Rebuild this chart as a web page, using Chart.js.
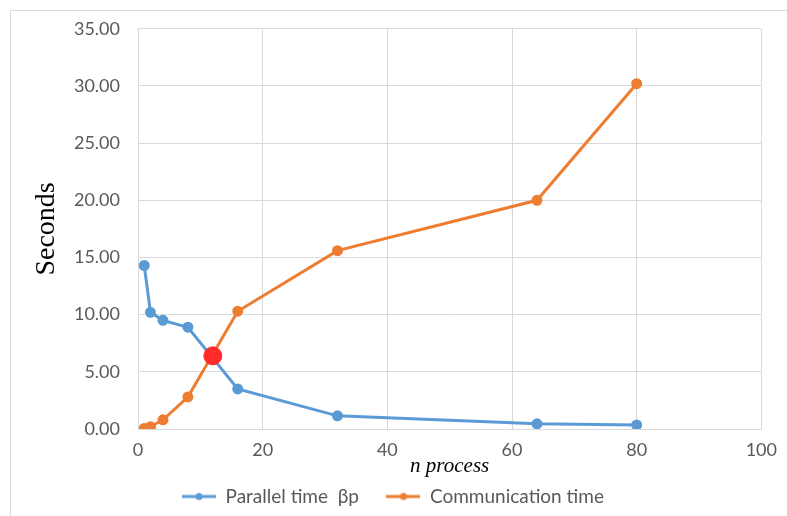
<!DOCTYPE html>
<html>
<head>
<meta charset="utf-8">
<script src="https://cdn.jsdelivr.net/npm/chart.js@4.4.1/dist/chart.umd.min.js"></script>
<style>
  html, body { margin: 0; padding: 0; background: #fff; }
  #wrap { position: relative; width: 787px; height: 516px; }
  #frame { position: absolute; left: 10px; top: 10px; right: 0; bottom: 0;
           border-top: 1px solid #d9d9d9; border-left: 1px solid #d9d9d9; }
  canvas { position: absolute; left: 0; top: 0; }
</style>
</head>
<body>
<div id="wrap">
  <div id="frame"></div>
  <canvas id="grafica" width="787" height="516"></canvas>
</div>
<script>
// datos
const procesos = [1, 2, 4, 8, 16, 32, 64, 80];
const tiempoParalelo = [14.3, 10.2, 9.5, 8.9, 3.5, 1.15, 0.45, 0.35];
const tiempoComunicacion = [0.05, 0.2, 0.8, 2.8, 10.3, 15.6, 20.0, 30.2];
const cruce = [{ x: 12, y: 6.4 }];
const etiquetas = ['Parallel time  βp', 'Communication time'];

const azul = '#5b9bd5';
const naranja = '#ed7d31';

// marcador de leyenda: línea con punto
function marcador(color) {
    const c = document.createElement('canvas');
    c.width = 34; c.height = 10;
    const g = c.getContext('2d');
    g.strokeStyle = color;
    g.lineWidth = 3;
    g.beginPath(); g.moveTo(0, 5); g.lineTo(34, 5); g.stroke();
    g.fillStyle = color;
    g.beginPath(); g.arc(17, 5, 3.5, 0, Math.PI * 2); g.fill();
    return c;
}

function puntos(xs, ys) {
    return xs.map((x, i) => ({ x: x, y: ys[i] }));
}

const ctx = document.getElementById('grafica').getContext('2d');

const grafica = new Chart(ctx, {
    type: 'line',
    data: {
        datasets: [
            {
                label: etiquetas[0],
                data: puntos(procesos, tiempoParalelo),
                borderColor: azul,
                backgroundColor: azul,
                borderWidth: 3,
                pointRadius: 4
            },
            {
                label: etiquetas[1],
                data: puntos(procesos, tiempoComunicacion),
                borderColor: naranja,
                backgroundColor: naranja,
                borderWidth: 3,
                pointRadius: 4
            },
            {
                label: 'cruce',
                data: cruce,
                showLine: false,
                order: -1, // encima de las líneas
                pointRadius: 9,
                pointBackgroundColor: '#ff2a2a',
                pointBorderColor: '#ff2a2a'
            }
        ]
    },
    options: {
        responsive: false,
        animation: false,
        layout: { padding: { left: 20, top: 20, right: 21, bottom: 0 } },
        plugins: {
            tooltip: { enabled: false },
            legend: {
                position: 'bottom',
                labels: {
                    usePointStyle: true,
                    pointStyleWidth: 34,
                    font: { family: 'Lato', size: 19 },
                    color: '#595959',
                    padding: 8,
                    generateLabels: chart => chart.data.datasets.slice(0, 2).map((d, i) => ({
                        text: i === 0 ? d.label + '    ' : d.label,
                        pointStyle: marcador(d.borderColor),
                        fillStyle: d.borderColor,
                        strokeStyle: d.borderColor,
                        lineWidth: 0,
                        fontColor: '#595959',
                        datasetIndex: i
                    }))
                }
            }
        },
        scales: {
            x: {
                type: 'linear',
                min: 0,
                max: 100,
                ticks: { stepSize: 20, padding: 10, color: '#595959', font: { family: 'Lato', size: 18 } },
                grid: { color: '#d9d9d9', drawTicks: false },
                border: { color: '#d9d9d9' },
                title: {
                    display: true,
                    text: 'n process',
                    color: '#000',
                    padding: { top: -6, bottom: 0 },
                    font: { family: 'Liberation Serif', style: 'italic', size: 21 }
                },
                afterFit: scale => { scale.height = 50; }
            },
            y: {
                min: 0,
                max: 35,
                ticks: {
                    stepSize: 5,
                    padding: 18,
                    color: '#595959',
                    font: { family: 'Lato', size: 18 },
                    callback: v => v.toFixed(2)
                },
                grid: { color: '#d9d9d9', drawTicks: false },
                border: { color: '#d9d9d9' },
                title: {
                    display: true,
                    text: 'Seconds',
                    color: '#000',
                    padding: { top: 10, bottom: 0 },
                    font: { family: 'Liberation Serif', size: 28 }
                },
                afterFit: scale => { scale.width = 118; }
            }
        }
    }
});
</script>
</body>
</html>
